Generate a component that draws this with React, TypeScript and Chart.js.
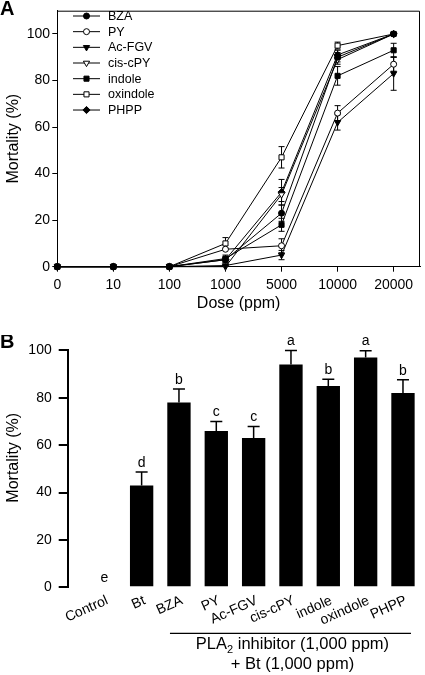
import React, { useEffect, useRef } from 'react';
import { Chart, registerables } from 'chart.js';
import { drawPoint } from 'chart.js/helpers';

Chart.register(...registerables);

const FONT = '"Liberation Sans", Arial, Helvetica, sans-serif';

// ---------- Panel A data ----------
const doseLabels = ['0', '10', '100', '1000', '5000', '10000', '20000'];
const seriesNames = ['BZA', 'PY', 'Ac-FGV', 'cis-cPY', 'indole', 'oxindole', 'PHPP'];
const bzaMean = [0, 0, 0, 3, 23, 90, 100];
const bzaErr = [0, 0, 0, 1, 3.5, 2, 0];
const pyMean = [0, 0, 0, 7.5, 9, 66, 87];
const pyErr = [0, 0, 0, 0, 3, 3.2, 3];
const acfgvMean = [0, 0, 0, 0.5, 5, 62, 83];
const acfgvErr = [0, 0, 0, 0, 2, 3.3, 7.2];
const cispyMean = [0, 0, 0, 0, 31, 89, 100];
const cispyErr = [0, 0, 0, 0, 3, 2, 0];
const indoleMean = [0, 0, 0, 3.5, 18, 82, 93];
const indoleErr = [0, 0, 0, 1.5, 2.8, 4, 3];
const oxindoleMean = [0, 0, 0, 10, 47, 95, 100];
const oxindoleErr = [0, 0, 0, 2.5, 4.6, 1.5, 0];
const phppMean = [0, 0, 0, 3, 32, 91, 100];
const phppErr = [0, 0, 0, 1, 5.5, 2, 0];
const yTicksA = [0, 20, 40, 60, 80, 100];

// ---------- Panel B data ----------
const groupsB = ['Control', 'Bt', 'BZA', 'PY', 'Ac-FGV', 'cis-cPY', 'indole', 'oxindole', 'PHPP'];
const mortalityB = [0, 43, 78, 66, 63, 94, 85, 97, 82];
const errB = [0, 5.7, 5.7, 4, 4.9, 6, 2.8, 2.9, 5.6];
const lettersB = ['e', 'd', 'b', 'c', 'c', 'a', 'b', 'a', 'b'];
const groupLine1 = ['PLA', '2', ' inhibitor (1,000 ppm)'];
const groupLine2 = '+ Bt (1,000 ppm)';

const meansA = [bzaMean, pyMean, acfgvMean, cispyMean, indoleMean, oxindoleMean, phppMean];
const errsA = [bzaErr, pyErr, acfgvErr, cispyErr, indoleErr, oxindoleErr, phppErr];

// marker styles (style only)
const markerStyles = [
  { style: 'circle', r: 3, rot: 0, fill: '#000' },
  { style: 'circle', r: 3, rot: 0, fill: '#fff' },
  { style: 'triangle', r: 3.6, rot: 180, fill: '#000' },
  { style: 'triangle', r: 3.6, rot: 180, fill: '#fff' },
  { style: 'rect', r: 3.6, rot: 0, fill: '#000' },
  { style: 'rect', r: 3.6, rot: 0, fill: '#fff' },
  { style: 'rectRot', r: 3.6, rot: 0, fill: '#000' },
];

function PanelA() {
  const ref = useRef<HTMLCanvasElement | null>(null);
  useEffect(() => {
    const canvas = ref.current!;
    const datasets = seriesNames.map((name, k) => ({
      label: name,
      data: meansA[k].map((v, i) => ({ x: i, y: v })),
      borderColor: '#000',
      borderWidth: 1,
      pointStyle: markerStyles[k].style as any,
      pointRadius: markerStyles[k].r,
      pointRotation: markerStyles[k].rot,
      pointBackgroundColor: markerStyles[k].fill,
      pointBorderColor: '#000',
      pointBorderWidth: 1,
      fill: false,
      tension: 0,
      clip: false as any,
    }));

    const decor = {
      id: 'decorA',
      beforeDatasetsDraw(chart: any) {
        const { ctx } = chart;
        const xs = chart.scales.x;
        const ys = chart.scales.y;
        ctx.save();
        ctx.strokeStyle = '#000';
        ctx.lineWidth = 1;
        meansA.forEach((m, k) => {
          m.forEach((v, i) => {
            const e = errsA[k][i];
            if (!e) return;
            const x = xs.getPixelForValue(i);
            const y1 = ys.getPixelForValue(v + e);
            const y2 = ys.getPixelForValue(v - e);
            ctx.beginPath();
            ctx.moveTo(x, y1);
            ctx.lineTo(x, y2);
            ctx.moveTo(x - 3, y1);
            ctx.lineTo(x + 3, y1);
            ctx.moveTo(x - 3, y2);
            ctx.lineTo(x + 3, y2);
            ctx.stroke();
          });
        });
        ctx.restore();
      },
      afterDraw(chart: any) {
        const { ctx, chartArea } = chart;
        ctx.save();
        ctx.strokeStyle = '#000';
        ctx.lineWidth = 1;
        ctx.beginPath();
        ctx.moveTo(chartArea.left, chartArea.top + 0.5);
        ctx.lineTo(chartArea.right - 0.5, chartArea.top + 0.5);
        ctx.lineTo(chartArea.right - 0.5, chartArea.bottom);
        ctx.stroke();
        // legend
        seriesNames.forEach((name, k) => {
          const y = 16 + k * 15.67;
          ctx.strokeStyle = '#000';
          ctx.lineWidth = 1;
          ctx.beginPath();
          ctx.moveTo(73, y);
          ctx.lineTo(100, y);
          ctx.stroke();
          ctx.fillStyle = markerStyles[k].fill;
          ctx.strokeStyle = '#000';
          drawPoint(ctx, {
            pointStyle: markerStyles[k].style,
            radius: markerStyles[k].r,
            rotation: markerStyles[k].rot,
            borderWidth: 1,
          } as any, 86.5, y);
          ctx.fillStyle = '#000';
          ctx.font = `12.5px ${FONT}`;
          ctx.textAlign = 'left';
          ctx.textBaseline = 'middle';
          ctx.fillText(name, 108, y + 0.5);
        });
        ctx.font = `bold 20px ${FONT}`;
        ctx.textAlign = 'left';
        ctx.textBaseline = 'alphabetic';
        ctx.fillStyle = '#000';
        ctx.fillText('A', 0, 15);
        ctx.restore();
      },
    };

    const chart = new Chart(canvas, {
      type: 'line',
      data: { datasets: datasets as any },
      options: {
        animation: false,
        responsive: false,
        maintainAspectRatio: false,
        layout: { padding: { left: 0, right: 2.3, top: 3.3, bottom: 0 } },
        plugins: { legend: { display: false }, tooltip: { enabled: false } },
        scales: {
          x: {
            type: 'linear',
            min: 0,
            max: 6.47,
            afterFit: (s: any) => { s.height = 68.3; },
            ticks: {
              stepSize: 1,
              includeBounds: false,
              autoSkip: false,
              maxRotation: 0,
              minRotation: 0,
              padding: 4.6,
              color: '#000',
              font: { family: FONT, size: 14 },
              callback: (v: any) => doseLabels[v] ?? '',
            },
            grid: { drawOnChartArea: false, drawTicks: true, tickLength: 5, color: '#000', lineWidth: 1 },
            border: { display: true, color: '#000', width: 1 },
            title: {
              display: true,
              text: 'Dose (ppm)',
              color: '#000',
              font: { family: FONT, size: 16 },
              padding: { top: 0, bottom: 21.7 },
            },
          },
          y: {
            min: 0,
            max: 110,
            afterFit: (s: any) => { s.width = 57.3; },
            afterBuildTicks: (s: any) => { s.ticks = yTicksA.map((v) => ({ value: v })); },
            ticks: {
              padding: 2.3,
              color: '#000',
              font: { family: FONT, size: 14 },
            },
            grid: { drawOnChartArea: false, drawTicks: true, tickLength: 5, color: '#000', lineWidth: 1 },
            border: { display: true, color: '#000', width: 1 },
            title: {
              display: true,
              text: 'Mortality (%)',
              color: '#000',
              font: { family: FONT, size: 16 },
              padding: { top: 3.7, bottom: 0 },
            },
          },
        },
      },
      plugins: [decor],
    });
    return () => chart.destroy();
  }, []);
  return (
    <canvas
      ref={ref}
      width={425}
      height={335}
      style={{ position: 'absolute', left: 0, top: 0, width: 425, height: 335 }}
    />
  );
}

function PanelB() {
  const ref = useRef<HTMLCanvasElement | null>(null);
  useEffect(() => {
    const canvas = ref.current!;
    const decor = {
      id: 'decorB',
      afterDatasetsDraw(chart: any) {
        const { ctx } = chart;
        const xs = chart.scales.x;
        const ys = chart.scales.y;
        ctx.save();
        ctx.strokeStyle = '#000';
        ctx.fillStyle = '#000';
        ctx.lineWidth = 1.5;
        mortalityB.forEach((v, i) => {
          const x = xs.getPixelForValue(i);
          const e = errB[i];
          const yTop = ys.getPixelForValue(v + e);
          if (e) {
            const yBar = ys.getPixelForValue(v);
            ctx.beginPath();
            ctx.moveTo(x, yBar);
            ctx.lineTo(x, yTop);
            ctx.moveTo(x - 6, yTop);
            ctx.lineTo(x + 6, yTop);
            ctx.stroke();
          }
          ctx.font = `14px ${FONT}`;
          ctx.textAlign = 'center';
          ctx.textBaseline = 'middle';
          ctx.fillText(lettersB[i], x, yTop - 9);
        });
        // group bracket
        const x0 = xs.getPixelForValue(2) - 9;
        const x1 = xs.getPixelForValue(8) + 8;
        ctx.lineWidth = 1.2;
        ctx.beginPath();
        ctx.moveTo(x0, 298.3);
        ctx.lineTo(x1, 298.3);
        ctx.stroke();
        const cx = (xs.getPixelForValue(2) + xs.getPixelForValue(8)) / 2 + 1.5;
        ctx.textBaseline = 'alphabetic';
        ctx.textAlign = 'left';
        const f1 = `16.5px ${FONT}`;
        const fs = `11px ${FONT}`;
        ctx.font = f1;
        const w0 = ctx.measureText(groupLine1[0]).width;
        const w2 = ctx.measureText(groupLine1[2]).width;
        ctx.font = fs;
        const w1 = ctx.measureText(groupLine1[1]).width;
        let sx = cx - (w0 + w1 + w2) / 2;
        ctx.font = f1;
        ctx.fillText(groupLine1[0], sx, 314.3);
        sx += w0;
        ctx.font = fs;
        ctx.fillText(groupLine1[1], sx, 318);
        sx += w1;
        ctx.font = f1;
        ctx.fillText(groupLine1[2], sx, 314.3);
        ctx.textAlign = 'center';
        ctx.font = `16.5px ${FONT}`;
        ctx.fillText(groupLine2, cx, 333.7);
        // panel letter
        ctx.font = `bold 20px ${FONT}`;
        ctx.textAlign = 'left';
        ctx.fillText('B', 0, 13.3);
        ctx.restore();
      },
    };

    const chart = new Chart(canvas, {
      type: 'bar',
      data: {
        datasets: [
          {
            data: mortalityB.map((v, i) => ({ x: i, y: v })),
            backgroundColor: '#000',
            borderWidth: 0,
            categoryPercentage: 1,
            barPercentage: 0.625,
          } as any,
        ],
      },
      options: {
        animation: false,
        responsive: false,
        maintainAspectRatio: false,
        layout: { padding: { left: 0, right: 4.1, top: 13.3, bottom: 0 } },
        plugins: { legend: { display: false }, tooltip: { enabled: false } },
        scales: {
          x: {
            type: 'linear',
            min: -0.98,
            max: 8.48,
            offset: false,
            afterFit: (s: any) => { s.height = 87.7; },
            ticks: {
              stepSize: 1,
              includeBounds: false,
              autoSkip: false,
              minRotation: 24,
              maxRotation: 24,
              padding: 5,
              labelOffset: 3,
              color: '#000',
              font: { family: FONT, size: 14 },
              callback: (v: any) => groupsB[v] ?? '',
            },
            grid: { display: false, drawTicks: false, offset: false },
            border: { display: false },
          },
          y: {
            min: 0,
            max: 100,
            afterFit: (s: any) => { s.width = 67.7; },
            ticks: {
              stepSize: 20,
              padding: 7,
              color: '#000',
              font: { family: FONT, size: 14 },
            },
            grid: { drawOnChartArea: false, drawTicks: true, tickLength: 9, color: '#000', lineWidth: 2 },
            border: { display: true, color: '#000', width: 2 },
            title: {
              display: true,
              text: '     Mortality (%)',
              color: '#000',
              font: { family: FONT, size: 16 },
              padding: { top: 3.7, bottom: 0 },
            },
          },
        },
      },
      plugins: [decor],
    });
    return () => chart.destroy();
  }, []);
  return (
    <canvas
      ref={ref}
      width={425}
      height={340}
      style={{ position: 'absolute', left: 0, top: 335, width: 425, height: 340 }}
    />
  );
}

export default function App() {
  return (
    <div style={{ position: 'absolute', left: 0, top: 0, width: 425, height: 675, background: '#fff' }}>
      <PanelA />
      <PanelB />
    </div>
  );
}
